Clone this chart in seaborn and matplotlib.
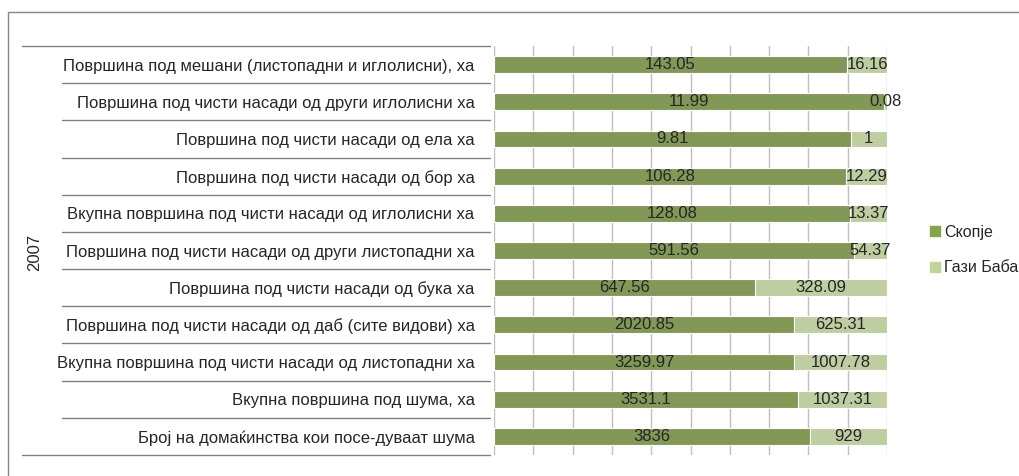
import pandas as pd
import numpy as np
import matplotlib.pyplot as plt
import matplotlib.patches as mpatches
import seaborn as sns

# Data
categories = [
    "Површина под мешани (листопадни и иглолисни), ха",
    "Површина под чисти насади од други иглолисни ха",
    "Површина под чисти насади од ела ха",
    "Површина под чисти насади од бор ха",
    "Вкупна површина под чисти насади од иглолисни ха",
    "Површина под чисти насади од други листопадни ха",
    "Површина под чисти насади од бука ха",
    "Површина под чисти насади од даб (сите видови) ха",
    "Вкупна површина под чисти насади од листопадни ха",
    "Вкупна површина под шума, ха",
    "Број на домаќинства кои посе-дуваат шума",
]
skopje = [143.05, 11.99, 9.81, 106.28, 128.08, 591.56, 647.56, 2020.85, 3259.97, 3531.1, 3836]
gazi_baba = [16.16, 0.08, 1, 12.29, 13.37, 54.37, 328.09, 625.31, 1007.78, 1037.31, 929]
skopje_labels = ["143.05", "11.99", "9.81", "106.28", "128.08", "591.56", "647.56",
                 "2020.85", "3259.97", "3531.1", "3836"]
gazi_labels = ["16.16", "0.08", "1", "12.29", "13.37", "54.37", "328.09",
               "625.31", "1007.78", "1037.31", "929"]
year = "2007"

df = pd.DataFrame({"category": categories, "Скопје": skopje, "Гази Баба": gazi_baba})
df["total"] = df["Скопје"] + df["Гази Баба"]
df["skopje_pct"] = df["Скопје"] / df["total"] * 100
df["full"] = 100.0

c_sk = "#86A34B"
c_gb = "#C0D59A"
fs = 12

sns.set_style("white")
plt.rcParams["font.family"] = ["Liberation Sans", "DejaVu Sans"]

fig = plt.figure(figsize=(10.19, 4.76), dpi=100)
ax = fig.add_axes([494 / 1019, 1 - 455 / 476, 393 / 1019, 409 / 476])

# stacked 100% bars: full bar in light colour, Skopje share on top
sns.barplot(data=df, y="category", x="full", color=c_gb, width=0.45,
            edgecolor="white", linewidth=0.8, ax=ax, orient="h")
sns.barplot(data=df, y="category", x="skopje_pct", color=c_sk, width=0.45,
            edgecolor="white", linewidth=0.8, ax=ax, orient="h")

ax.set_xlim(0, 100)
ax.set_ylim(len(categories) - 0.5, -0.5)
ax.set_xlabel("")
ax.set_ylabel("")
ax.set_xticks(np.arange(0, 101, 10))
ax.set_xticklabels([])
ax.tick_params(axis="both", length=0)
ax.grid(axis="x", color="#BFBFBF", linewidth=1)
ax.set_axisbelow(True)
for s in ax.spines.values():
    s.set_visible(False)
ax.set_yticklabels(categories, fontsize=fs, color="#262626")
ax.tick_params(axis="y", pad=14)

# value labels
for i in range(len(categories)):
    p = df["skopje_pct"][i]
    ax.text(p / 2, i, skopje_labels[i], ha="center", va="center", fontsize=fs, color="#262626")
    ax.text(p + (100 - p) / 2, i, gazi_labels[i], ha="center", va="center", fontsize=fs, color="#262626")

# row separators in the label area
tr = ax.get_yaxis_transform()
for k in range(len(categories) + 1):
    y = k - 0.5
    x0 = -1.20 if k in (0, len(categories)) else -1.10
    ax.plot([x0, -0.01], [y, y], transform=tr, color="#808080", linewidth=1, clip_on=False)

fig.text(35 / 1019, 1 - 252 / 476, year, rotation=90, ha="center", va="center",
         fontsize=fs, color="#262626")

# outer border
fig.patches.append(mpatches.Rectangle((8 / 1019, -0.1), 1.2, 1.1 - 12 / 476,
                                      transform=fig.transFigure, fill=False,
                                      edgecolor="#868686", linewidth=1))

handles = [mpatches.Patch(color=c_sk, label="Скопје"), mpatches.Patch(color=c_gb, label="Гази Баба")]
fig.legend(handles=handles, loc="center left", bbox_to_anchor=(930 / 1019, 1 - 250 / 476),
           frameon=False, fontsize=11.5, handlelength=0.6, handleheight=0.6,
           handletextpad=0.3, labelspacing=1.3, borderpad=0, borderaxespad=0)

plt.savefig("out.png", dpi=100)
